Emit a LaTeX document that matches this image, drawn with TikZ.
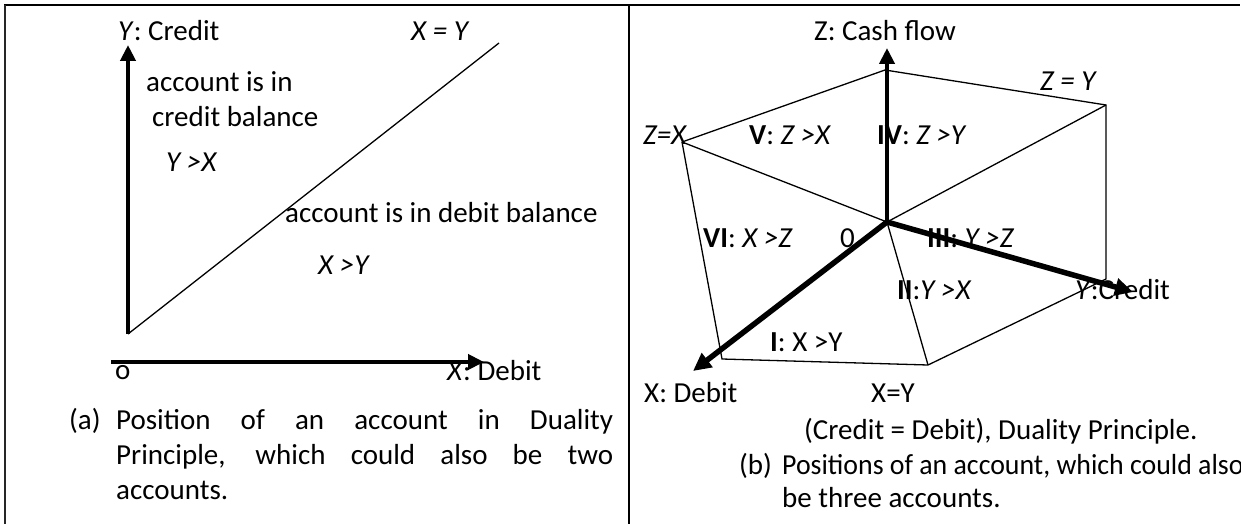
\documentclass[tikz,border=0pt]{standalone}
\usepackage{fontspec}
\setmainfont{Carlito}
\usetikzlibrary{arrows.meta}
\tikzset{
  lbl/.style={anchor=base west,inner sep=0pt,font=\fontsize{29}{35}\selectfont},
  axis/.style={line width=4pt,-{Triangle[length=16pt,width=15pt]}},
  thickaxis/.style={line width=5.5pt,-{Triangle[length=18pt,width=17pt]}},
  edge/.style={line width=1.3pt},
  frame/.style={line width=2.5pt},
}
\begin{document}
\begin{tikzpicture}[x=1pt,y=-1pt]
\useasboundingbox (0,0) rectangle (1241,524);
\draw[frame] (4,5) -- (1240,5);
\draw[frame,black!85] (5,5) -- (5,524);
\draw[frame] (629,5) -- (629,524);

\coordinate (oa) at (128,334);
\coordinate (ya) at (128,45);
\coordinate (xys) at (499,43);
\coordinate (xs) at (111,362);
\coordinate (xa) at (484,362);
\draw[edge] (oa) -- (xys);
\draw[axis] (oa) -- (ya);
\draw[axis] (xs) -- (xa);
\node[lbl] (ylab) at (118,41) {\textit{Y}: Credit};
\node[lbl] (xeqy) at (411,41) {\textit{X = Y}};
\node[lbl] (cred1) at (146,92) {account is in};
\node[lbl] (cred2) at (152,127) {credit balance};
\node[lbl] (ygx) at (166,171) {\textit{Y >X}};
\node[lbl] (deb) at (285,222) {account is in debit balance};
\node[lbl] (xgy) at (318,274) {\textit{X >Y}};
\node[lbl] (orig) at (115,379) {o};
\node[lbl] (xlab) at (447,380) {\textit{X}: Debit};
\node[lbl] (capa) at (69,429) {(a)};
\node[lbl] (capa1) at (116,429) {\makebox[497pt][s]{Position of an account in Duality}};
\node[lbl] (capa2) at (116,464) {\makebox[497pt][s]{Principle, which could also be two}};
\node[lbl] (capa3) at (116,499) {accounts.};

\coordinate (c) at (887,222);
\coordinate (zt) at (887,48);
\coordinate (top) at (885,70);
\coordinate (ur) at (1106,105);
\coordinate (rb) at (1106,279);
\coordinate (bot) at (928,365);
\coordinate (bl) at (722,359);
\coordinate (zx) at (682,142);
\coordinate (xt) at (693,371);
\coordinate (yt) at (1133,292);
\draw[edge] (zx) -- (top) -- (ur) -- (rb) -- (bot) -- (bl) -- (zx);
\draw[edge] (zx) -- (c) -- (ur);
\draw[edge] (c) -- (bot);
\draw[axis] (c) -- (zt);
\draw[thickaxis] (c) -- (xt);
\draw[thickaxis] (c) -- (yt);
\node[lbl] (zlab) at (814,41) {Z: Cash flow};
\node[lbl] (zeqy) at (1040,91) {\textit{Z = Y}};
\node[lbl] (zeqx) at (643,144) {\textit{Z=X}};
\node[lbl] (r5) at (749,144) {\textbf{V}: \textit{Z >X}};
\node[lbl] (r4) at (877,144) {\textbf{IV}: \textit{Z >Y}};
\node[lbl] (r6) at (703,247) {\textbf{VI}: \textit{X >Z}};
\node[lbl] (zero) at (840,247) {0};
\node[lbl] (r3) at (927,247) {\textbf{III}: \textit{Y >Z}};
\node[lbl] (r2) at (897,299) {\textbf{II}:\textit{Y >X}};
\node[lbl] (ylab2) at (1075,299) {\textit{Y}:Credit};
\node[lbl] (r1) at (770,351) {\textbf{I}: X >Y};
\node[lbl] (xlab2) at (644,402) {X: Debit};
\node[lbl] (xeqy2) at (871,402) {X=Y};
\node[lbl] (dual) at (804,439) {(Credit = Debit), Duality Principle.};
\node[lbl] (capb) at (739,474) {(b)};
\node[lbl] (capb1) at (782,474) {\scalebox{0.96}[1]{Positions of an account, which could also}};
\node[lbl] (capb2) at (782,507) {be three accounts.};
\end{tikzpicture}
\end{document}
